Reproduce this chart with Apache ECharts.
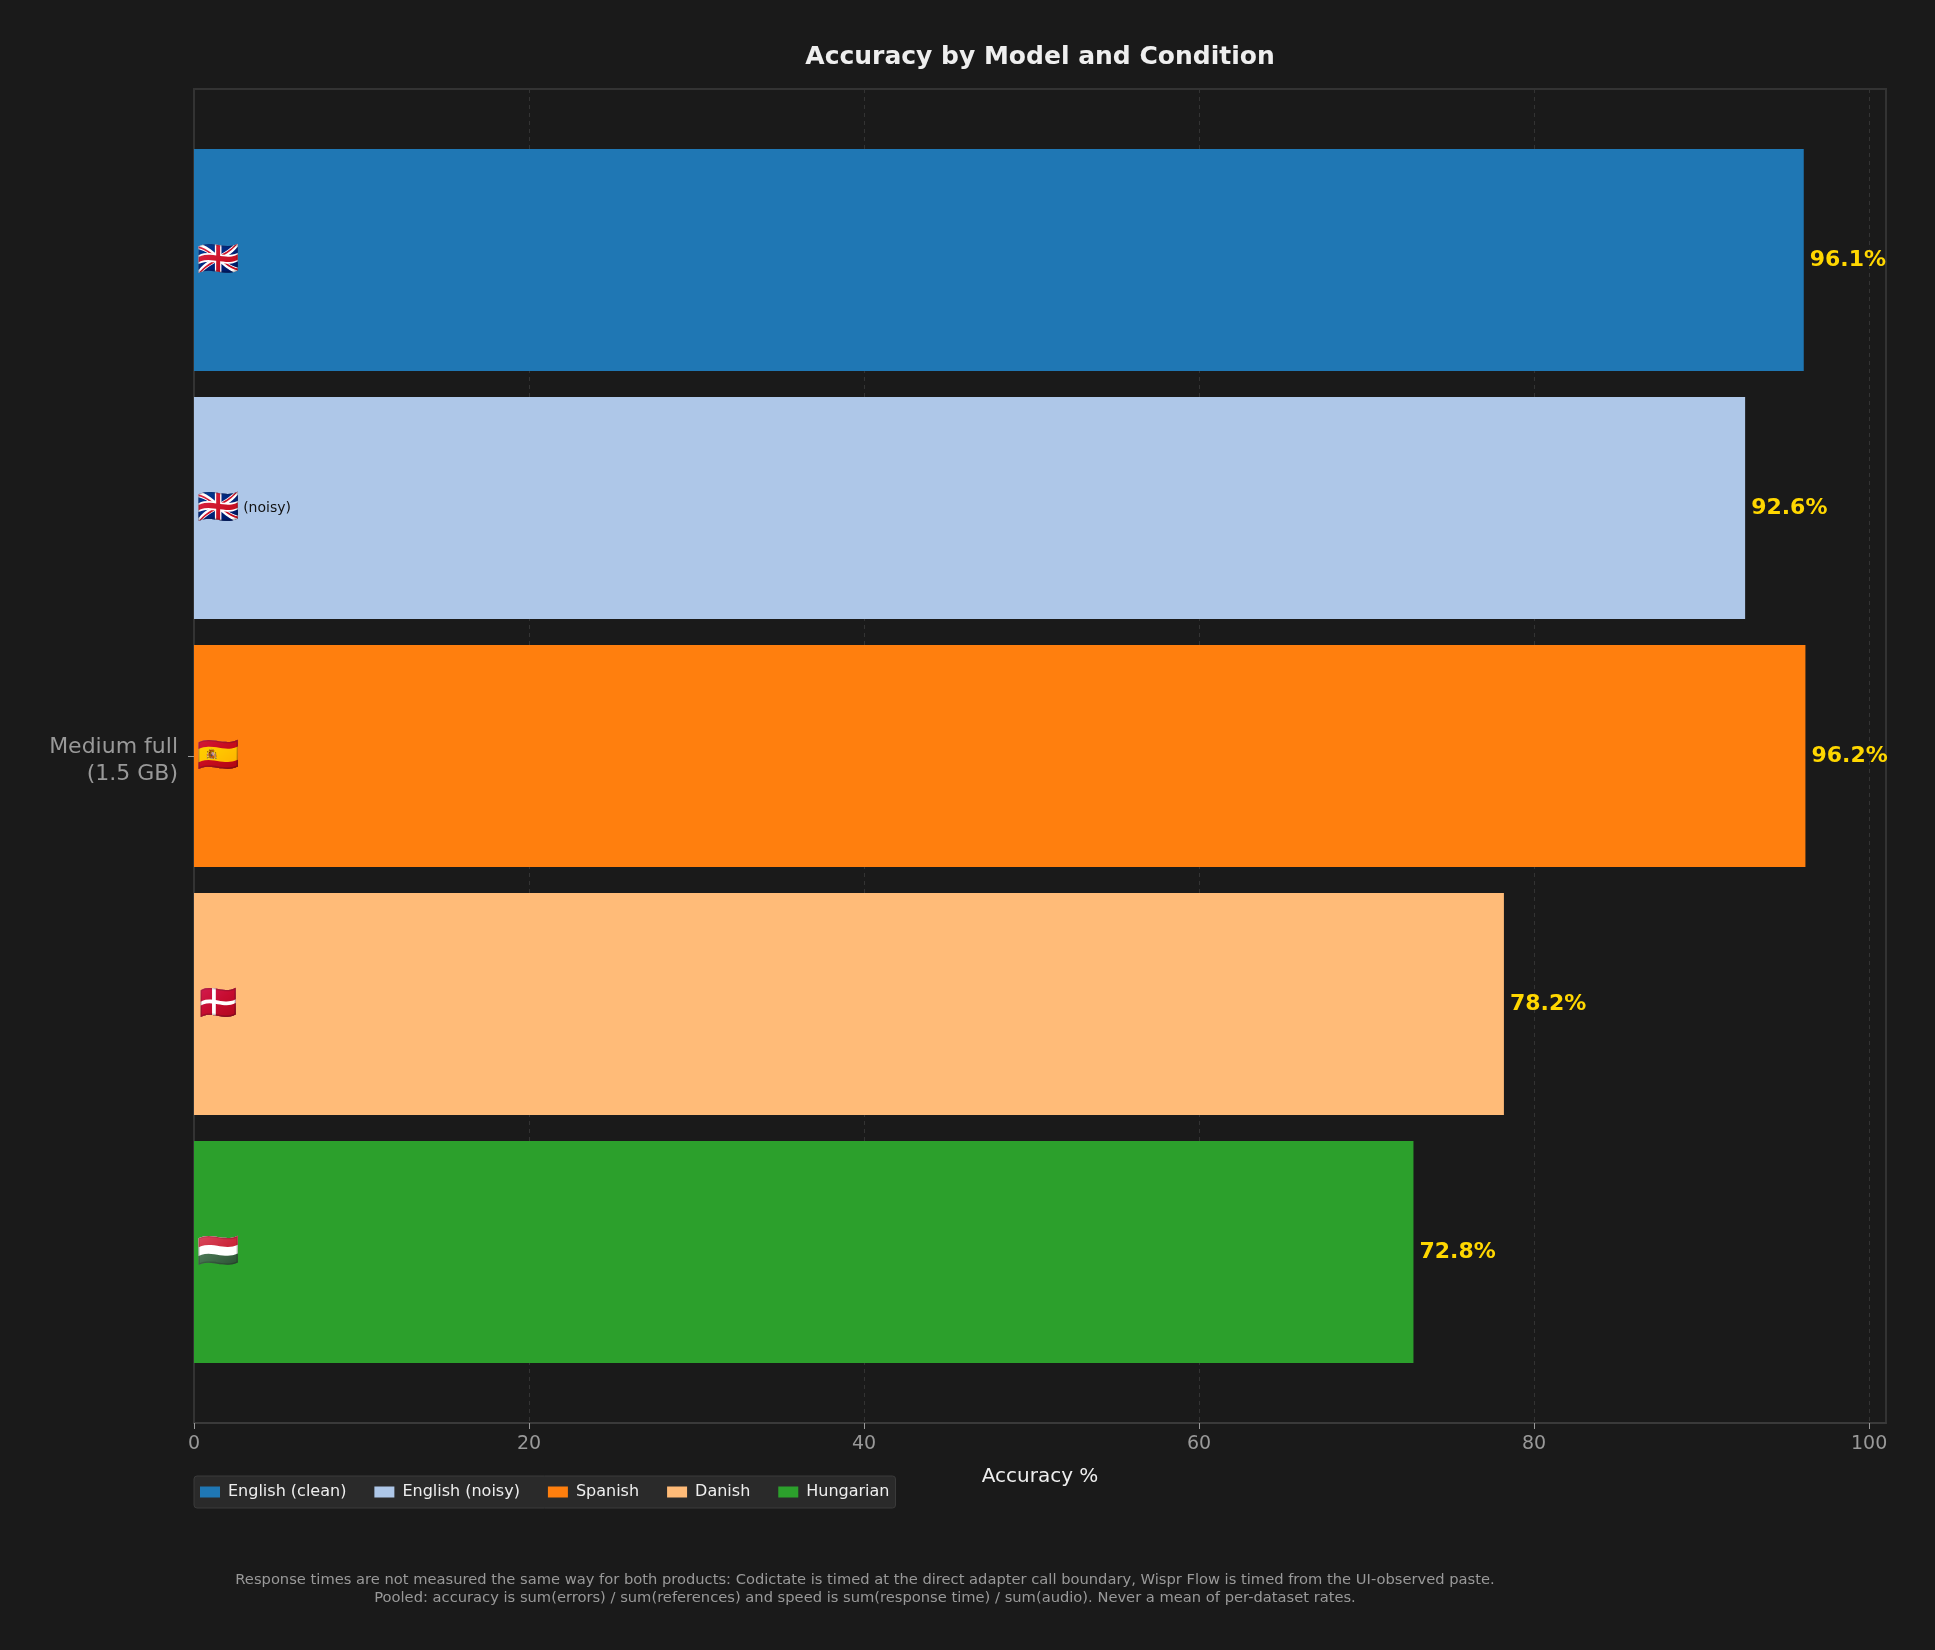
<!DOCTYPE html>
<html>
<head>
<meta charset="utf-8">
<script src="https://cdn.jsdelivr.net/npm/echarts@6/dist/echarts.min.js"></script>
<style>
    html, body { margin: 0; padding: 0; background: #1a1a1a; }
    #chart { width: 1935px; height: 1650px; }
</style>
</head>
<body>
<div id="chart"></div>
<script>
    const categories = ['Medium full\n(1.5 GB)'];
    const seriesNames = ['English (clean)', 'English (noisy)', 'Spanish', 'Danish', 'Hungarian'];
    const seriesFlags = ['🇬🇧', '🇬🇧 (noisy)', '🇪🇸', '🇩🇰', '🇭🇺'];
    const accuracy = [96.1, 92.6, 96.2, 78.2, 72.8];
    const xTicks = [0, 20, 40, 60, 80, 100];
    const footnotes = [
        'Response times are not measured the same way for both products: Codictate is timed at the direct adapter call boundary, Wispr Flow is timed from the UI-observed paste.',
        'Pooled: accuracy is sum(errors) / sum(references) and speed is sum(response time) / sum(audio). Never a mean of per-dataset rates.'
    ];

    const colors = ['#1f77b4', '#aec7e8', '#ff7f0e', '#ffbb78', '#2ca02c'];
    const font = 'DejaVu Sans';

    const chart = echarts.init(document.getElementById('chart'));

    const series = [];
    seriesNames.forEach(function (name, i) {
        // the bar itself, flag inside on the left
        series.push({
            name: name,
            type: 'bar',
            stack: 's' + i,
            data: [accuracy[i]],
            barWidth: 222,
            barGap: '11.7%',
            itemStyle: { color: colors[i] },
            label: {
                show: true,
                position: 'insideLeft',
                distance: 3,
                formatter: function () {
                    const parts = seriesFlags[i].split(' ');
                    return parts.length > 1 ? '{f|' + parts[0] + '} {t|' + parts.slice(1).join(' ') + '}' : '{f|' + parts[0] + '}';
                },
                rich: {
                    f: { fontSize: 34, fontFamily: 'Noto Color Emoji, ' + font },
                    t: { fontSize: 14, color: '#111', fontFamily: font }
                }
            },
            emphasis: { disabled: true }
        });
        // zero-length cap carrying the value label at the end of the bar
        series.push({
            name: name + ' value',
            type: 'bar',
            stack: 's' + i,
            data: [0],
            itemStyle: { color: 'transparent' },
            label: {
                show: true,
                position: 'right',
                distance: 6,
                color: '#FFD700',
                fontSize: 22,
                fontWeight: 'bold',
                fontFamily: font,
                padding: [3, 0, 0, 0],
                formatter: function () { return accuracy[i].toFixed(1) + '%'; }
            },
            emphasis: { disabled: true },
            tooltip: { show: false }
        });
    });

    const option = {
        backgroundColor: '#1a1a1a',
        animation: false,
        textStyle: { fontFamily: font },
        title: {
            text: 'Accuracy by Model and Condition',
            left: 1040,
            top: 45,
            padding: 0,
            textAlign: 'center',
            textStyle: { color: '#eeeeee', fontSize: 25, fontWeight: 'bold', fontFamily: font }
        },
        legend: {
            data: seriesNames,
            left: 194,
            top: 1476,
            orient: 'horizontal',
            backgroundColor: '#2a2a2a',
            borderColor: '#3a3a3a',
            borderWidth: 1,
            borderRadius: 3,
            padding: [8, 6],
            itemWidth: 20,
            itemHeight: 11,
            itemGap: 28,
            icon: 'rect',
            textStyle: { color: '#eeeeee', fontSize: 16, fontFamily: font, padding: [0, 0, 0, 3] }
        },
        grid: {
            left: 194,
            right: 49,
            top: 89,
            bottom: 227,
            show: true,
            borderColor: '#333333',
            borderWidth: 2,
            backgroundColor: 'transparent'
        },
        xAxis: {
            type: 'value',
            min: 0,
            max: 101.01,
            interval: 20,
            name: 'Accuracy %',
            nameLocation: 'middle',
            nameGap: 44,
            nameTextStyle: { color: '#eeeeee', fontSize: 20, fontFamily: font },
            axisLine: { show: true, lineStyle: { color: '#3a3a3a', width: 2 } },
            axisTick: { show: true, length: 6, lineStyle: { color: '#999999' }, customValues: xTicks },
            axisLabel: { color: '#999999', fontSize: 19, margin: 12, fontFamily: font, customValues: xTicks },
            splitLine: { show: true, lineStyle: { color: '#333333', type: [4, 4], width: 1 } }
        },
        yAxis: {
            type: 'category',
            data: categories,
            inverse: true,
            axisLine: { show: true, lineStyle: { color: '#333333', width: 2 } },
            axisTick: { show: true, length: 6, alignWithLabel: true, lineStyle: { color: '#999999' } },
            axisLabel: {
                margin: 16,
                align: 'right',
                formatter: function (v) {
                    return '{s| }\n' + v.split('\n').map(function (l) { return '{a|' + l + '}'; }).join('\n');
                },
                rich: {
                    s: { fontSize: 8, lineHeight: 10 },
                    a: { color: '#999999', fontSize: 22, lineHeight: 27, fontFamily: font }
                }
            },
            splitLine: { show: false }
        },
        graphic: footnotes.map(function (t, k) {
            return {
                type: 'text',
                x: 865,
                y: 1580 + k * 18,
                style: {
                    text: t,
                    fill: '#999999',
                    font: '14.7px "DejaVu Sans"',
                    textAlign: 'center',
                    textVerticalAlign: 'middle'
                }
            };
        }),
        series: series
    };

    chart.setOption(option);
</script>
</body>
</html>
